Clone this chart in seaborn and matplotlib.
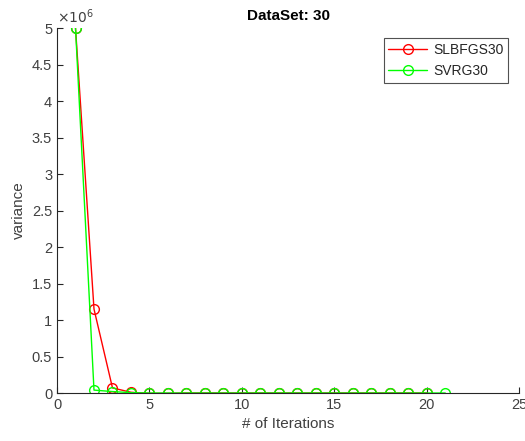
import matplotlib
matplotlib.use("Agg")
import matplotlib.pyplot as plt
import seaborn as sns
import numpy as np
import pandas as pd
from matplotlib.ticker import FuncFormatter, FixedLocator

sns.set_style("ticks")
plt.rcParams['font.family'] = ['Liberation Sans', 'DejaVu Sans']

iters_slbfgs = list(range(1, 21))
slbfgs = [5.0e6, 1.15e6, 0.07e6, 0.01e6, -0.005e6, -0.005e6] + [0.0] * 14
iters_svrg = list(range(1, 22))
svrg = [5.0e6, 0.04e6, 0.02e6, 0.005e6] + [0.0] * 17
ytick_vals = [0, 0.5, 1, 1.5, 2, 2.5, 3, 3.5, 4, 4.5, 5]

fig = plt.figure(figsize=(5.25, 4.41), dpi=100)
ax = fig.add_axes([0.1086, 0.1088, 0.8804, 0.8277])

tc = '#404040'
sns.lineplot(x=iters_slbfgs, y=slbfgs, ax=ax, color='#ff0000', marker='o', markersize=7,
             markerfacecolor='none', markeredgecolor='#ff0000', markeredgewidth=1.0,
             linewidth=1.0, label='SLBFGS30')
sns.lineplot(x=iters_svrg, y=svrg, ax=ax, color='#00ff00', marker='o', markersize=7,
             markerfacecolor='none', markeredgecolor='#00ff00', markeredgewidth=1.0,
             linewidth=1.0, label='SVRG30')

ax.set_xlim(0, 25)
ax.set_ylim(0, 5e6)
ax.set_xticks([0, 5, 10, 15, 20, 25])
ax.yaxis.set_major_locator(FixedLocator([v * 1e6 for v in ytick_vals]))
ax.yaxis.set_major_formatter(FuncFormatter(lambda v, p: f"{v/1e6:g}"))
ax.text(0.0, 1.005, r'$\times 10^6$', transform=ax.transAxes, fontsize=10, color=tc,
        ha='left', va='bottom')

for s in ['top', 'right']:
    ax.spines[s].set_visible(False)
for s in ['left', 'bottom']:
    ax.spines[s].set_color('#262626')
    ax.spines[s].set_linewidth(0.8)
ax.tick_params(direction='in', length=4, colors='#262626', labelcolor=tc, labelsize=10.5, width=0.8)

ax.set_xlabel('# of Iterations', fontsize=11, color=tc)
ax.set_ylabel('variance', fontsize=11, color=tc)
ax.set_title('DataSet: 30', fontsize=11, fontweight='bold', color='black', pad=6)

leg = ax.legend(loc='upper right', bbox_to_anchor=(0.976, 0.973), borderaxespad=0,
                frameon=True, fancybox=False,
                edgecolor='#262626', fontsize=10, handlelength=2.8, borderpad=0.35,
                labelspacing=0.55, handletextpad=0.4)
leg.get_frame().set_linewidth(0.8)

fig.savefig('out.png', dpi=100)
